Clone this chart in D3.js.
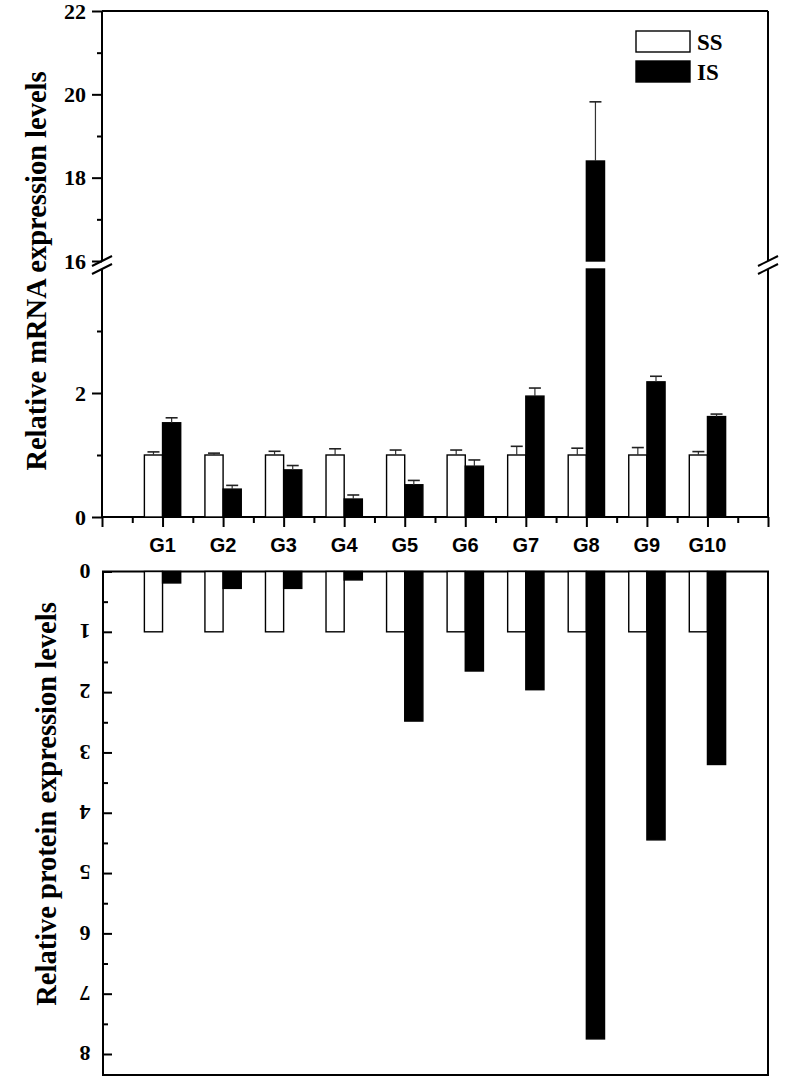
<!DOCTYPE html>
<html>
<head>
<meta charset="utf-8">
<script src="https://cdn.jsdelivr.net/npm/d3@7"></script>
<style>
  html, body { margin: 0; padding: 0; background: #fff; }
  svg { display: block; }
  .num { font-family: "Liberation Serif", "Times New Roman", serif; font-weight: bold; }
  .gene { font-family: "Liberation Sans", Arial, sans-serif; font-weight: bold; }
</style>
</head>
<body>
<svg id="chart" width="800" height="1078"></svg>
<script>
// data
const genes = ['G1', 'G2', 'G3', 'G4', 'G5', 'G6', 'G7', 'G8', 'G9', 'G10'];
const mrnaSS = [1, 1, 1, 1, 1, 1, 1, 1, 1, 1];
const mrnaSSsd = [0.05, 0.03, 0.06, 0.1, 0.08, 0.08, 0.14, 0.11, 0.12, 0.055];
const mrnaIS = [1.52, 0.45, 0.76, 0.29, 0.52, 0.82, 1.95, 18.4, 2.18, 1.62];
const mrnaISsd = [0.08, 0.06, 0.07, 0.065, 0.07, 0.1, 0.13, 1.42, 0.09, 0.04];
const protSS = [1, 1, 1, 1, 1, 1, 1, 1, 1, 1];
const protIS = [0.19, 0.28, 0.28, 0.14, 2.48, 1.65, 1.96, 7.75, 4.45, 3.2];
const topLowTicks = [0, 1, 2, 3];
const topHighTicks = [16, 17, 18, 19, 20, 21, 22];
const protTicks = [0, 1, 2, 3, 4, 5, 6, 7, 8];

const svg = d3.select('#chart');

// x: one slot per gene, axis runs from slot 0 to slot 11
const x = d3.scaleLinear().domain([0, genes.length + 1]).range([102, 768]);
const barW = x(0.3) - x(0);

// top panel y with a break between 4 and 16
const yLow = d3.scaleLinear().domain([0, 4]).range([517, 269]);
const yHigh = d3.scaleLinear().domain([16, 22]).range([261, 11]);
const yTop = v => v <= 4 ? yLow(v) : yHigh(v);

// bottom panel y, drawn downward
const yBot = d3.scaleLinear().domain([0, 8]).range([571.5, 1054]);

const upper = svg.append('g');

function hline (g, x1, x2, y) {
  g.append('line').attr('x1', x1).attr('x2', x2).attr('y1', y).attr('y2', y)
    .attr('stroke', '#000').attr('stroke-width', 2);
}
function vline (g, xx, y1, y2) {
  g.append('line').attr('x1', xx).attr('x2', xx).attr('y1', y1).attr('y2', y2)
    .attr('stroke', '#000').attr('stroke-width', 2);
}

// frame
hline(upper, x(0), x(11), yHigh(22));
vline(upper, x(11), yHigh(22), yHigh(16));
vline(upper, x(11), yLow(4), yLow(0));
vline(upper, x(0), yHigh(22), yHigh(16));
vline(upper, x(0), yLow(4), yLow(0));

// left axis ticks, two segments
function styleAxis (g) {
  g.select('.domain').remove();
  g.selectAll('line').attr('stroke', '#000').attr('stroke-width', 2);
}
upper.append('g').attr('transform', `translate(${x(0)},0)`)
  .call(d3.axisLeft(yLow).tickValues(topLowTicks).tickSize(0).tickFormat(''))
  .call(g => g.selectAll('.tick line').attr('x2', d => d % 2 === 0 ? -10 : -5))
  .call(styleAxis);
upper.append('g').attr('transform', `translate(${x(0)},0)`)
  .call(d3.axisLeft(yHigh).tickValues(topHighTicks).tickSize(0).tickFormat(''))
  .call(g => g.selectAll('.tick line').attr('x2', d => d % 2 === 0 ? -10 : -5))
  .call(styleAxis);

// tick labels
upper.selectAll('.lowLab').data(topLowTicks.filter(d => d % 2 === 0)).join('text')
  .attr('class', 'num').attr('x', 86).attr('y', d => yLow(d)).attr('dy', '0.35em')
  .attr('text-anchor', 'end').attr('font-size', 22).text(d => d);
upper.selectAll('.highLab').data(topHighTicks.filter(d => d % 2 === 0)).join('text')
  .attr('class', 'num').attr('x', 86).attr('y', d => yHigh(d)).attr('dy', '0.35em')
  .attr('text-anchor', 'end').attr('font-size', 22).text(d => d);

// break marks
[x(0), x(11)].forEach(bx => {
  [yHigh(16), yLow(4)].forEach(by => {
    upper.append('line')
      .attr('x1', bx - 10).attr('y1', by + 5).attr('x2', bx + 10).attr('y2', by - 5)
      .attr('stroke', '#000').attr('stroke-width', 2);
  });
});

// x axis
hline(upper, x(0), x(11), yLow(0));
upper.append('g').attr('transform', `translate(0,${yLow(0)})`)
  .call(d3.axisBottom(x).tickValues(d3.range(0, 11.5, 0.5)).tickSize(0).tickFormat(''))
  .call(g => g.selectAll('.tick line').attr('y2', d => Number.isInteger(d) ? 10 : 6))
  .call(styleAxis);
upper.selectAll('.gene').data(genes).join('text')
  .attr('class', 'gene').attr('x', (d, i) => x(i + 1)).attr('y', 552)
  .attr('text-anchor', 'middle').attr('font-size', 20).text(d => d);

// bars
function barPieces (v) {
  if (v <= 4) return [[0, v]];
  return [[0, 4], [16, v]];
}
genes.forEach((g, i) => {
  const cx = x(i + 1);
  [[mrnaSS[i], mrnaSSsd[i], '#fff', cx - barW], [mrnaIS[i], mrnaISsd[i], '#000', cx]].forEach(([v, sd, fill, bx]) => {
    barPieces(v).forEach(([a, b]) => {
      upper.append('rect')
        .attr('x', bx).attr('width', barW)
        .attr('y', yTop(b)).attr('height', yTop(a) - yTop(b))
        .attr('fill', fill).attr('stroke', '#000').attr('stroke-width', 1.4);
    });
    const ex = bx + barW / 2;
    upper.append('line')
      .attr('x1', ex).attr('x2', ex).attr('y1', yTop(v)).attr('y2', yTop(v + sd))
      .attr('stroke', '#333').attr('stroke-width', 1.2);
    upper.append('line')
      .attr('x1', ex - 6).attr('x2', ex + 6).attr('y1', yTop(v + sd)).attr('y2', yTop(v + sd))
      .attr('stroke', '#222').attr('stroke-width', 1.6);
  });
});

// legend
const legend = upper.append('g');
[['SS', '#fff', 31], ['IS', '#000', 61]].forEach(([name, fill, ly]) => {
  legend.append('rect').attr('x', 636).attr('y', ly).attr('width', 54).attr('height', 21)
    .attr('fill', fill).attr('stroke', '#000').attr('stroke-width', 1.4);
  legend.append('text').attr('class', 'num').attr('x', 697).attr('y', ly + 19)
    .attr('font-size', 23).text(name);
});

// y title
upper.append('text').attr('class', 'num')
  .attr('transform', 'translate(46,271) rotate(-90)')
  .attr('text-anchor', 'middle').attr('font-size', 28.5)
  .text('Relative mRNA expression levels');

// bottom panel
const lower = svg.append('g');
lower.append('rect')
  .attr('x', 103).attr('y', yBot(0)).attr('width', x(11) - 103).attr('height', 1075 - yBot(0))
  .attr('fill', 'none').attr('stroke', '#000').attr('stroke-width', 2);
lower.append('g').attr('transform', 'translate(103,0)')
  .call(d3.axisRight(yBot).tickValues(d3.range(0, 8.5, 0.5)).tickSize(0).tickFormat(''))
  .call(g => g.selectAll('.tick line').attr('x2', d => Number.isInteger(d) ? 9 : 5))
  .call(styleAxis);
lower.selectAll('.pLab').data(protTicks).join('text')
  .attr('class', 'num').attr('font-size', 22).attr('text-anchor', 'middle')
  .attr('transform', d => `translate(85,${yBot(d)}) rotate(180)`)
  .attr('dy', '0.35em').text(d => d);

genes.forEach((g, i) => {
  const cx = x(i + 1);
  lower.append('rect')
    .attr('x', cx - barW).attr('width', barW)
    .attr('y', yBot(0)).attr('height', yBot(protSS[i]) - yBot(0))
    .attr('fill', '#fff').attr('stroke', '#000').attr('stroke-width', 1.4);
  lower.append('rect')
    .attr('x', cx).attr('width', barW)
    .attr('y', yBot(0)).attr('height', yBot(protIS[i]) - yBot(0))
    .attr('fill', '#000').attr('stroke', '#000').attr('stroke-width', 1.4);
});

lower.append('text').attr('class', 'num')
  .attr('transform', 'translate(56,804) rotate(-90)')
  .attr('text-anchor', 'middle').attr('font-size', 28.5)
  .text('Relative protein expression levels');
</script>
</body>
</html>
